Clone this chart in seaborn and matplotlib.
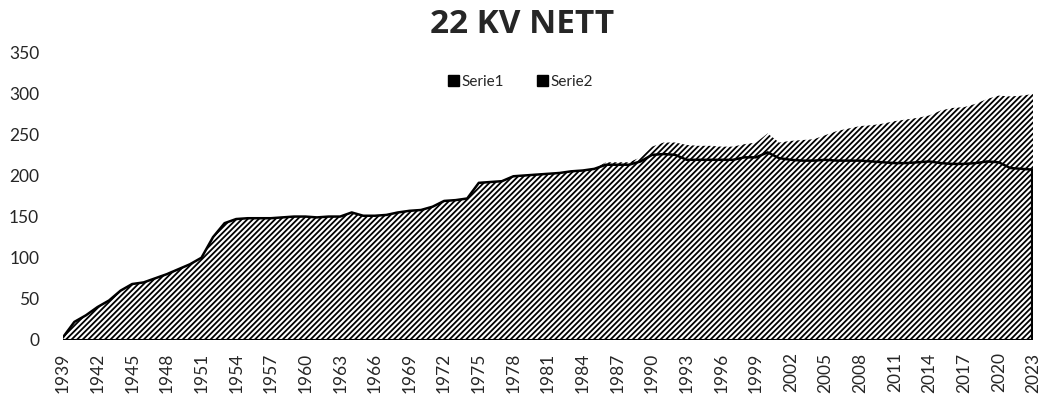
import numpy as np
import pandas as pd
import seaborn as sns
import matplotlib.pyplot as plt
from matplotlib.patches import Patch

# Data
years = list(range(1939, 2024))
serie1 = [3, 22, 30, 40, 48, 60, 68, 70, 75, 80,
          86, 92, 100, 125, 142, 147, 148, 148, 148, 149,
          150, 150, 149, 150, 150, 155, 151, 151, 152, 155,
          157, 158, 162, 169, 170, 172, 191, 192, 193, 199,
          200, 201, 202, 203, 205, 206, 208, 213, 213, 213,
          217, 225, 226, 225, 219, 219, 219, 219, 219, 222,
          222, 228, 221, 219, 218, 218, 219, 218, 218, 218,
          217, 216, 215, 215, 216, 217, 215, 214, 214, 215,
          217, 216, 209, 208, 207]
serie2 = [3, 22, 30, 40, 48, 60, 68, 70, 75, 80,
          86, 92, 100, 125, 142, 147, 148, 148, 148, 149,
          150, 150, 149, 150, 150, 155, 151, 151, 152, 155,
          157, 158, 162, 169, 170, 172, 191, 192, 193, 199,
          200, 201, 202, 203, 205, 206, 208, 216, 216, 216,
          222, 235, 240, 240, 237, 236, 236, 235, 235, 238,
          240, 251, 240, 242, 243, 244, 249, 254, 257, 260,
          261, 263, 266, 268, 270, 273, 279, 282, 283, 287,
          293, 297, 296, 297, 299]

df = pd.DataFrame({'year': years, 'Serie1': serie1, 'Serie2': serie2})

sns.set_theme(style='white')
plt.rcParams['font.family'] = ['Lato', 'DejaVu Sans']
plt.rcParams['hatch.linewidth'] = 1.3

fig = plt.figure(figsize=(10.47, 4.08), dpi=100)
ax = fig.add_axes([0.060, 0.1667, 0.927, 0.7058])

# Serie2 behind, Serie1 on top with its outline
ax.fill_between(df['year'], df['Serie2'], 0, facecolor='white', edgecolor='black',
                hatch='//////', linewidth=0, zorder=1)
ax.fill_between(df['year'], df['Serie1'], 0, facecolor='white', edgecolor='black',
                hatch='//////', linewidth=0, zorder=2)
sns.lineplot(data=df, x='year', y='Serie1', color='black', linewidth=1.8, ax=ax, zorder=3)
ax.vlines(df['year'].iloc[-1], 0, df['Serie1'].iloc[-1], color='black', linewidth=3, zorder=3)
ax.axhline(0, color='black', linewidth=1.5, zorder=3)

ax.set_xlim(1939, 2023)
ax.set_ylim(0, 350)
ax.set_yticks(range(0, 351, 50))
ax.set_xticks(years[::3])
ax.set_xticklabels([str(y) for y in years[::3]], rotation=90)
ax.tick_params(axis='both', labelsize=12.5, length=0)
ax.tick_params(axis='y', pad=17)
ax.tick_params(axis='x', pad=9)
ax.set_xlabel('')
ax.set_ylabel('')
for s in ax.spines.values():
    s.set_visible(False)

handles = [Patch(facecolor='black', edgecolor='black'),
           Patch(facecolor='black', edgecolor='black')]
fig.legend(handles, ['Serie1', 'Serie2'], loc='center', bbox_to_anchor=(0.497, 0.8),
           ncol=2, frameon=False, fontsize=11, handlelength=0.7, handleheight=0.7,
           handletextpad=0.15, columnspacing=2.2)

fig.text(0.499, 0.94, '22 KV NETT', ha='center', va='center', fontsize=24,
         fontweight='bold', family=['Open Sans', 'DejaVu Sans'])

fig.savefig('out.png', dpi=100)
